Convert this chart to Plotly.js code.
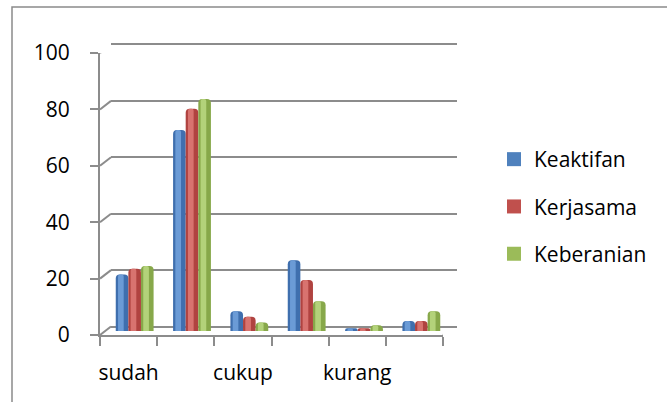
<!DOCTYPE html>
<html>
<head>
<meta charset="utf-8">
<script src="https://cdn.plot.ly/plotly-3.0.1.min.js"></script>
<style>html,body{margin:0;padding:0;background:#fff;}#chart{width:667px;height:402px;}</style>
</head>
<body>
<div id="chart"></div>
<script>
// ---- data ----
const categories = ["sudah", "", "cukup", "", "kurang", ""];
const seriesNames = ["Keaktifan", "Kerjasama", "Keberanian"];
const keaktifan  = [20, 71, 7, 25, 1, 3.5];
const kerjasama  = [22, 78.5, 5, 18, 1, 3.5];
const keberanian = [23, 82, 3, 10.5, 2, 7];
const yTicks = [0, 20, 40, 60, 80, 100];

const seriesValues = [keaktifan, kerjasama, keberanian];
const baseColors  = ["#3f6fae", "#b04340", "#87a84a"];
const lightColors = ["#6b9bd6", "#d8736f", "#b3d27a"];
const legendColors = ["#4F81BD", "#C0504D", "#9BBB59"];

const xIdx = categories.map((c, i) => i);
const labelIdx = [], labelText = [];
categories.forEach((c, i) => { if (c) { labelIdx.push(i); labelText.push(c); } });
const bounds = categories.map((c, i) => i - 0.5).concat([categories.length - 0.5]);

const FONT = "Open Sans, sans-serif";
const GRAY = "#8c8c8c";
const barW = 0.22;
const traces = [];
seriesValues.forEach((vals, k) => {
  const off = -1.5 * barW + k * barW;
  traces.push({
    type: "bar", x: xIdx, y: vals, xaxis: "x2", yaxis: "y2",
    name: seriesNames[k], showlegend: false,
    width: barW, offset: off,
    marker: {color: baseColors[k], cornerradius: 4, line: {width: 0}},
    hoverinfo: "y"
  });
  traces.push({
    type: "bar", x: xIdx, y: vals, xaxis: "x2", yaxis: "y2",
    showlegend: false,
    width: barW * 0.45, offset: off + barW * 0.18,
    marker: {color: lightColors[k], cornerradius: 3, line: {width: 0}},
    hoverinfo: "skip"
  });
});
// legend entries (square swatches)
seriesNames.forEach((n, k) => {
  traces.push({type: "scatter", mode: "markers", x: [null], y: [null], xaxis: "x2", yaxis: "y2",
    name: n, legendgroup: "g" + k,
    marker: {symbol: "square", size: 14, color: legendColors[k]}, hoverinfo: "skip"});
});
// empty traces to create back-wall and front-axis subplots
traces.push({type: "scatter", x: [], y: [], xaxis: "x", yaxis: "y", showlegend: false, hoverinfo: "skip"});
traces.push({type: "scatter", x: [], y: [], xaxis: "x3", yaxis: "y3", showlegend: false, hoverinfo: "skip"});

// plot area in pixels
const L = 99, R = 457, T = 36, B = 335, W = R - L, H = B - T;
const px = v => (v - L) / W;
const py = v => (B - v) / H;

const shapes = [];
// depth connectors from front y-axis ticks to back wall
yTicks.forEach(v => {
  shapes.push({type: "line", xref: "x3", yref: "y3",
    xsizemode: "pixel", xanchor: -0.5, x0: 0, x1: 11,
    ysizemode: "pixel", yanchor: v, y0: 0, y1: 8.5,
    line: {color: GRAY, width: 2}});
});
// floor right edge
shapes.push({type: "line", xref: "x3", yref: "y3",
  xsizemode: "pixel", xanchor: bounds[bounds.length - 1], x0: 0, x1: 14,
  ysizemode: "pixel", yanchor: 0, y0: 0, y1: 8.5,
  line: {color: GRAY, width: 2}});
// outer chart border
shapes.push({type: "rect", xref: "paper", yref: "paper",
  x0: px(12), x1: px(700), y0: py(440), y1: py(7),
  line: {color: "#8a8a8a", width: 1.5}, layer: "below"});

const layout = {
  width: 667, height: 402,
  margin: {l: L, r: 667 - R, t: T, b: 402 - B, pad: 0},
  paper_bgcolor: "#ffffff", plot_bgcolor: "rgba(0,0,0,0)",
  font: {family: FONT, size: 21, color: "#000"},
  barmode: "overlay",
  showlegend: true,
  legend: {x: px(494), y: py(139), xanchor: "left", yanchor: "top",
    font: {family: FONT, size: 21, color: "#000"},
    traceorder: "grouped", tracegroupgap: 17, itemwidth: 30,
    bgcolor: "rgba(0,0,0,0)"},
  // back wall with gridlines (range padded so 0 and 100 lines are drawn)
  xaxis: {domain: [px(111), px(457)], range: [-0.5, categories.length - 0.5], anchor: "y",
    showgrid: false, zeroline: false, showline: false, showticklabels: false, ticks: "", fixedrange: true},
  yaxis: {domain: [py(327 + 2 * 2.83), py(44 - 2 * 2.83)], range: [-2, 102], anchor: "x",
    tickmode: "array", tickvals: yTicks, showgrid: true, gridcolor: GRAY, gridwidth: 2,
    zeroline: false, showline: false, showticklabels: false, ticks: "", fixedrange: true},
  // bars
  xaxis2: {domain: [px(106), px(450)], range: [-0.5, categories.length - 0.5], anchor: "y2",
    showgrid: false, zeroline: false, showline: false, showticklabels: false, ticks: "", fixedrange: true},
  yaxis2: {domain: [py(331), py(48)], range: [0, 100], anchor: "x2",
    showgrid: false, zeroline: false, showline: false, showticklabels: false, ticks: "", fixedrange: true},
  // front axes
  xaxis3: {domain: [px(100), px(443)], range: [-0.5, categories.length - 0.5], anchor: "y3",
    tickmode: "array", tickvals: labelIdx, ticktext: labelText, ticks: "",
    ticklabelstandoff: 18,
    tickfont: {family: FONT, size: 21, color: "#000"},
    minor: {tickmode: "array", tickvals: bounds, ticks: "outside", ticklen: 9, tickwidth: 2, tickcolor: GRAY, showgrid: false},
    showline: true, linecolor: GRAY, linewidth: 2,
    showgrid: false, zeroline: false, fixedrange: true},
  yaxis3: {domain: [py(335), py(53)], range: [0, 100], anchor: "x3",
    tickmode: "array", tickvals: yTicks, ticks: "outside", ticklen: 8, tickwidth: 2, tickcolor: GRAY,
    ticklabelstandoff: 16,
    tickfont: {family: FONT, size: 21, color: "#000"},
    showline: true, linecolor: GRAY, linewidth: 2,
    showgrid: false, zeroline: false, fixedrange: true},
  shapes: shapes
};

Plotly.newPlot("chart", traces, layout, {displayModeBar: false, staticPlot: true});
</script>
</body>
</html>
